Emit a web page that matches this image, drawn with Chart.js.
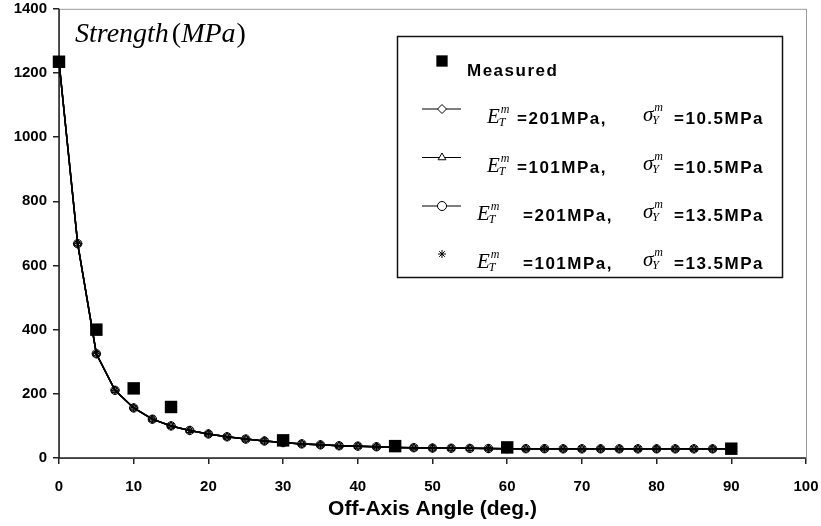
<!DOCTYPE html>
<html>
<head>
<meta charset="utf-8">
<script src="https://cdn.jsdelivr.net/npm/chart.js@4/dist/chart.umd.min.js"></script>
<style>
  html, body { margin: 0; padding: 0; background: #fff; }
  #wrap { width: 821px; height: 526px; }
</style>
</head>
<body>
<div id="wrap"><canvas id="strengthChart" width="821" height="526"></canvas></div>
<script>
// off-axis angles used for the model curves (deg.)
const angles = [0, 2.5, 5, 7.5, 10, 12.5, 15, 17.5, 20, 22.5, 25, 27.5, 30, 32.5, 35, 37.5, 40, 42.5, 45,
  47.5, 50, 52.5, 55, 57.5, 60, 62.5, 65, 67.5, 70, 72.5, 75, 77.5, 80, 82.5, 85, 87.5, 90];

// model predictions, the four cases lie on top of each other
const e201s105 = [1235, 668, 325, 211, 156, 121, 100, 86, 75, 66, 59, 53, 48, 44, 41, 38, 37, 35, 33,
  32, 31, 30.5, 30, 29.5, 29, 29, 29, 28.5, 28.5, 28.5, 28.5, 28.5, 28.5, 28.5, 28.5, 28.5, 28.5];
const e101s105 = [1235, 668, 325, 211, 156, 121, 100, 86, 75, 66, 59, 53, 48, 44, 41, 38, 37, 35, 33,
  32, 31, 30.5, 30, 29.5, 29, 29, 29, 28.5, 28.5, 28.5, 28.5, 28.5, 28.5, 28.5, 28.5, 28.5, 28.5];
const e201s135 = [1235, 668, 325, 211, 156, 121, 100, 86, 75, 66, 59, 53, 48, 44, 41, 38, 37, 35, 33,
  32, 31, 30.5, 30, 29.5, 29, 29, 29, 28.5, 28.5, 28.5, 28.5, 28.5, 28.5, 28.5, 28.5, 28.5, 28.5];
const e101s135 = [1235, 668, 325, 211, 156, 121, 100, 86, 75, 66, 59, 53, 48, 44, 41, 38, 37, 35, 33,
  32, 31, 30.5, 30, 29.5, 29, 29, 29, 28.5, 28.5, 28.5, 28.5, 28.5, 28.5, 28.5, 28.5, 28.5, 28.5];

// experiments
const measuredAngles = [0, 5, 10, 15, 30, 45, 60, 90];
const measuredValues = [1235, 400, 217, 159, 55, 37, 33, 29];

// text
const yTicks = [0, 200, 400, 600, 800, 1000, 1200, 1400];
const xTicks = [0, 10, 20, 30, 40, 50, 60, 70, 80, 90, 100];
const xTitle = "Off-Axis Angle (deg.)";
const measuredLabel = "Measured";
const modulusLabels = ["=201MPa,", "=101MPa,", "=201MPa,", "=101MPa,"];
const yieldLabels = ["=10.5MPa", "=10.5MPa", "=13.5MPa", "=13.5MPa"];
const modelStyles = ["rectRot", "triangle", "circle", "star"];

const pairs = (xs, ys) => xs.map((x, i) => ({ x: x, y: ys[i] }));

const modelSet = (label, values, style) => ({
  label: label,
  data: pairs(angles, values),
  borderColor: "#000",
  borderWidth: 1.5,
  backgroundColor: "#fff",
  pointStyle: style,
  pointRadius: 4.2,
  pointBorderWidth: 1,
  pointBorderColor: "#000",
  pointBackgroundColor: "rgba(255,255,255,0)",
  showLine: true,
  tension: 0,
  clip: false,
});

// axes frame: grey box, dark left/bottom axes
const framePlugin = {
  id: "frame",
  beforeDatasetsDraw(chart) {
    const { ctx, chartArea: a } = chart;
    ctx.save();
    ctx.strokeStyle = "#9a9a9a";
    ctx.lineWidth = 1;
    ctx.strokeRect(a.left + 0.5, a.top + 0.5, a.right - a.left, a.bottom - a.top);
    ctx.strokeStyle = "#222";
    ctx.lineWidth = 1.5;
    ctx.beginPath();
    ctx.moveTo(a.left, a.top);
    ctx.lineTo(a.left, a.bottom);
    ctx.lineTo(a.right, a.bottom);
    ctx.stroke();
    ctx.restore();
  },
};

function mathSymbol(ctx, base, sub, x, y) {
  ctx.letterSpacing = "0px";
  ctx.font = "italic 21px 'Liberation Serif', 'DejaVu Serif', serif";
  ctx.textAlign = "left";
  ctx.textBaseline = "alphabetic";
  ctx.fillText(base, x, y);
  const w = ctx.measureText(base).width;
  ctx.font = "italic 12px 'Liberation Serif', 'DejaVu Serif', serif";
  ctx.fillText("m", x + w + 1, y - 10);
  ctx.fillText(sub, x + w - 1, y + 3);
}

function boldText(ctx, text, x, y) {
  ctx.font = "bold 17px Arial, 'Liberation Sans', sans-serif";
  ctx.letterSpacing = "1.5px";
  ctx.textAlign = "left";
  ctx.textBaseline = "alphabetic";
  ctx.fillText(text, x, y);
  ctx.letterSpacing = "0px";
}

// boxed legend with the material constants
const legendPlugin = {
  id: "boxLegend",
  afterDraw(chart) {
    const ctx = chart.ctx;
    const H = Chart.helpers;
    ctx.save();
    ctx.fillStyle = "#fff";
    ctx.fillRect(397, 36, 385, 241);
    ctx.strokeStyle = "#111";
    ctx.lineWidth = 1.5;
    ctx.strokeRect(397.5, 36.5, 385, 241);

    ctx.fillStyle = "#000";
    H.drawPoint(ctx, { pointStyle: "rect", radius: 8, rotation: 0, borderWidth: 0 }, 442, 61);
    boldText(ctx, measuredLabel, 467, 76);

    const rowY = [109, 157.5, 206, 254];
    const eX = [487, 487, 477, 477];
    const valX = [517, 517, 523, 523];
    modelStyles.forEach((style, i) => {
      const y = rowY[i];
      ctx.strokeStyle = "#000";
      ctx.lineWidth = 1.2;
      if (style !== "star") {
        ctx.beginPath();
        ctx.moveTo(422, y);
        ctx.lineTo(461, y);
        ctx.stroke();
      }
      ctx.fillStyle = "#fff";
      ctx.lineWidth = 1;
      H.drawPoint(ctx, { pointStyle: style, radius: style === "star" ? 4 : 4.5, rotation: 0, borderWidth: 1 }, 442, y);
      ctx.fillStyle = "#000";
      const ty = y + 15;
      mathSymbol(ctx, "E", "T", eX[i], ty - 1);
      boldText(ctx, modulusLabels[i], valX[i], ty);
      mathSymbol(ctx, "\u03c3", "Y", 643, ty - 3);
      boldText(ctx, yieldLabels[i], 674, ty);
    });

    // axis label in the top-left corner
    ctx.fillStyle = "#000";
    ctx.textBaseline = "alphabetic";
    ctx.textAlign = "left";
    const serif = "28px 'Liberation Serif', 'DejaVu Serif', serif";
    let x = 75;
    ctx.font = "italic " + serif;
    ctx.fillText("Strength", x, 42);
    x += ctx.measureText("Strength").width + 3;
    ctx.font = serif;
    ctx.fillText("(", x, 42);
    x += ctx.measureText("(").width;
    ctx.font = "italic " + serif;
    ctx.fillText("MPa", x, 42);
    x += ctx.measureText("MPa").width + 1;
    ctx.font = serif;
    ctx.fillText(")", x, 42);
    ctx.restore();
  },
};

const tickFont = { family: "Arial, 'Liberation Sans', sans-serif", size: 15, weight: "bold" };

new Chart(document.getElementById("strengthChart").getContext("2d"), {
  type: "scatter",
  data: {
    datasets: [
      {
        label: measuredLabel,
        data: pairs(measuredAngles, measuredValues),
        pointStyle: "rect",
        pointRadius: 8.8,
        pointBackgroundColor: "#000",
        pointBorderColor: "#000",
        pointBorderWidth: 0,
        showLine: false,
        clip: false,
      },
      modelSet("E201 s10.5", e201s105, modelStyles[0]),
      modelSet("E101 s10.5", e101s105, modelStyles[1]),
      modelSet("E201 s13.5", e201s135, modelStyles[2]),
      modelSet("E101 s13.5", e101s135, modelStyles[3]),
    ],
  },
  options: {
    responsive: false,
    animation: false,
    layout: { padding: { top: 8, right: 15, left: 0, bottom: 0 } },
    plugins: {
      legend: { display: false },
      tooltip: { enabled: false },
    },
    scales: {
      x: {
        type: "linear",
        min: 0,
        max: 100,
        afterBuildTicks: (axis) => { axis.ticks = xTicks.map((v) => ({ value: v })); },
        afterFit: (axis) => { axis.height = 68; axis.paddingLeft = 0; axis.paddingRight = 0; },
        grid: { drawOnChartArea: false, tickLength: 6, color: "#222", lineWidth: 1.5 },
        border: { display: false },
        ticks: { color: "#000", font: tickFont, padding: 14, maxRotation: 0, callback: (v) => String(v) },
        title: {
          display: true,
          text: xTitle,
          color: "#000",
          font: { family: "Arial, 'Liberation Sans', sans-serif", size: 21, weight: "bold" },
          padding: { top: 2, bottom: 4 },
        },
      },
      y: {
        min: 0,
        max: 1400,
        afterBuildTicks: (axis) => { axis.ticks = yTicks.map((v) => ({ value: v })); },
        afterFit: (axis) => { axis.width = 59; axis.paddingTop = 0; axis.paddingBottom = 0; },
        grid: { drawOnChartArea: false, tickLength: 6, color: "#222", lineWidth: 1.5 },
        border: { display: false },
        ticks: { color: "#000", font: tickFont, padding: 6, callback: (v) => String(v) },
      },
    },
  },
  plugins: [framePlugin, legendPlugin],
});
</script>
</body>
</html>
